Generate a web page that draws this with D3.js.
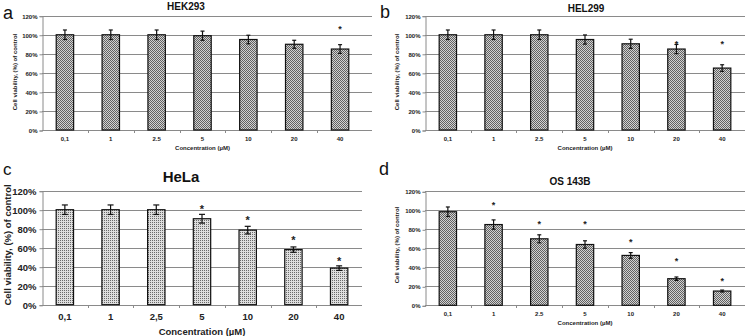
<!DOCTYPE html>
<html>
<head>
<meta charset="utf-8">
<script src="https://cdn.jsdelivr.net/npm/d3@7"></script>
<style>
  body { margin: 0; background: #fff; }
  svg { display: block; font-family: "Liberation Sans", Arial, sans-serif; }
</style>
</head>
<body>
<div id="chart"></div>
<script>
// Data
const concLabels = ["0,1", "1", "2.5", "5", "10", "20", "40"];
const concLabelsHeLa = ["0,1", "1", "2,5", "5", "10", "20", "40"];
const yTicks = [0, 20, 40, 60, 80, 100, 120];

const hek293Values = [100, 100, 100, 99, 95, 90, 85];
const hek293Errors = [5, 5, 5, 4.8, 4.5, 4.2, 4.6];
const hek293Stars = [null, null, null, null, null, null, 110];

const hel299Values = [100, 100, 100, 95, 90.5, 85, 65];
const hel299Errors = [5, 5, 5, 4.8, 4.8, 4.8, 3.5];
const hel299Stars = [null, null, null, null, null, 94, 94];

const helaValues = [100, 100, 100, 90.5, 78.5, 58, 38.5];
const helaErrors = [5, 5, 5, 4.6, 4, 2.8, 2.4];
const helaStars = [null, null, null, 104.5, 93, 72, 50];

const osValues = [98.5, 85, 70, 64, 52.5, 28, 15];
const osErrors = [5, 4.9, 4.2, 3.9, 3, 1.8, 1];
const osStars = [null, 109.5, 89.5, 89.5, 70, 50, 29];

const svg = d3.select("#chart").append("svg")
    .attr("width", 746)
    .attr("height", 336);

// Fill patterns
const defs = svg.append("defs");
const checker = defs.append("pattern")
    .attr("id", "checker")
    .attr("patternUnits", "userSpaceOnUse")
    .attr("width", 2).attr("height", 2);
checker.append("rect").attr("width", 2).attr("height", 2).attr("fill", "#d2d2d2");
checker.append("rect").attr("width", 1).attr("height", 1).attr("fill", "#626262");
checker.append("rect").attr("x", 1).attr("y", 1).attr("width", 1).attr("height", 1).attr("fill", "#626262");

const dots = defs.append("pattern")
    .attr("id", "dots")
    .attr("patternUnits", "userSpaceOnUse")
    .attr("width", 2).attr("height", 2);
dots.append("rect").attr("width", 2).attr("height", 2).attr("fill", "#dedede");
dots.append("rect").attr("width", 1).attr("height", 1).attr("fill", "#6a6a6a");

function drawPanel(p) {
    const x = d3.scaleBand()
        .domain(p.labels)
        .range([p.left, p.right])
        .padding(0);

    const y = d3.scaleLinear()
        .domain([0, 120])
        .range([p.bottom, p.top]);

    const g = svg.append("g");

    // Grid lines
    g.append("g")
        .selectAll("line")
        .data(yTicks.slice(1))
        .join("line")
        .attr("x1", p.left)
        .attr("x2", p.gridRight)
        .attr("y1", d => Math.round(y(d)) + 0.5)
        .attr("y2", d => Math.round(y(d)) + 0.5)
        .attr("stroke", "#8a8a8a")
        .attr("stroke-width", 1);

    // Y axis
    const yAxis = g.append("g")
        .attr("transform", `translate(${p.left + 0.5},0.5)`)
        .call(d3.axisLeft(y)
            .tickValues(yTicks)
            .tickSize(3)
            .tickPadding(p.tickPad)
            .tickFormat(d => d + "%"));
    yAxis.select(".domain").attr("stroke", "#8a8a8a");
    yAxis.selectAll(".tick line").attr("stroke", "#8a8a8a");
    yAxis.selectAll("text")
        .style("font-size", p.tickFont + "px")
        .style("font-weight", "bold")
        .attr("fill", "#222");

    // X axis
    const xAxis = g.append("g")
        .attr("transform", `translate(0,${Math.round(p.bottom) + 0.5})`)
        .call(d3.axisBottom(x).tickSize(0).tickPadding(p.xPad));
    xAxis.select(".domain").attr("stroke", "#8a8a8a").attr("d", `M${p.left},0H${p.gridRight}`);
    xAxis.selectAll("text")
        .style("font-size", p.tickFont + "px")
        .style("font-weight", "bold")
        .attr("fill", "#222");
    // small ticks between categories
    g.append("g")
        .selectAll("line")
        .data(p.labels.slice(1))
        .join("line")
        .attr("x1", d => Math.round(x(d)) + 0.5)
        .attr("x2", d => Math.round(x(d)) + 0.5)
        .attr("y1", Math.round(p.bottom))
        .attr("y2", Math.round(p.bottom) + 3)
        .attr("stroke", "#8a8a8a");

    const barW = x.bandwidth() * 0.38;
    const rows = p.values.map((v, i) => ({ label: p.labels[i], v: v, e: p.errors[i], s: p.stars[i] }));

    // Bars
    g.append("g")
        .selectAll("rect")
        .data(rows)
        .join("rect")
        .attr("x", d => x(d.label) + (x.bandwidth() - barW) / 2)
        .attr("y", d => y(d.v))
        .attr("width", barW)
        .attr("height", d => y(0) - y(d.v))
        .attr("fill", `url(#${p.pattern})`)
        .attr("stroke", "#111")
        .attr("stroke-width", 1.2);

    // Error bars
    const eb = g.append("g").attr("stroke", "#111").attr("stroke-width", 1.2);
    const cx = d => x(d.label) + x.bandwidth() / 2;
    eb.selectAll(".v")
        .data(rows)
        .join("line")
        .attr("class", "v")
        .attr("x1", cx).attr("x2", cx)
        .attr("y1", d => y(d.v + d.e))
        .attr("y2", d => y(d.v - d.e));
    ["top", "bot"].forEach(k => {
        eb.selectAll("." + k)
            .data(rows)
            .join("line")
            .attr("class", k)
            .attr("x1", d => cx(d) - p.cap)
            .attr("x2", d => cx(d) + p.cap)
            .attr("y1", d => y(k === "top" ? d.v + d.e : d.v - d.e))
            .attr("y2", d => y(k === "top" ? d.v + d.e : d.v - d.e));
    });

    // Significance stars
    g.append("g")
        .selectAll("text")
        .data(rows.filter(d => d.s !== null))
        .join("text")
        .attr("x", cx)
        .attr("y", d => y(d.s))
        .attr("dy", "0.7em")
        .attr("text-anchor", "middle")
        .style("font-size", p.starFont + "px")
        .style("font-weight", "bold")
        .attr("fill", "#222")
        .text("*");

    // Axis titles
    g.append("text")
        .attr("x", (p.left + p.right) / 2)
        .attr("y", p.xTitleY)
        .attr("text-anchor", "middle")
        .attr("dominant-baseline", "central")
        .style("font-size", p.titleFont + "px")
        .style("font-weight", "bold")
        .attr("fill", "#222")
        .text("Concentration (\u00b5M)");

    g.append("text")
        .attr("transform", `translate(${p.yTitleX},${p.yTitleY}) rotate(-90)`)
        .attr("text-anchor", "middle")
        .attr("dominant-baseline", "central")
        .style("font-size", p.titleFont + "px")
        .style("font-weight", "bold")
        .attr("fill", "#222")
        .text("Cell viability, (%) of control");

    // Chart title
    g.append("text")
        .attr("x", p.headX)
        .attr("y", p.headY)
        .attr("text-anchor", "middle")
        .attr("dominant-baseline", "central")
        .style("font-size", p.headFont + "px")
        .style("font-weight", "bold")
        .attr("fill", "#111")
        .text(p.name);

    // Panel letter
    g.append("text")
        .attr("x", p.letterX)
        .attr("y", p.letterY)
        .style("font-size", p.letterFont + "px")
        .attr("fill", "#111")
        .text(p.letter);
}

const small = { tickFont: 6, tickPad: 2, xPad: 6, titleFont: 6, starFont: 9, headFont: 10, cap: 2, letterFont: 18 };

drawPanel(Object.assign({}, small, {
    name: "HEK293", letter: "a", labels: concLabels,
    values: hek293Values, errors: hek293Errors, stars: hek293Stars, pattern: "checker",
    left: 42, right: 363, gridRight: 372, top: 15.7, bottom: 130,
    xTitleY: 148, yTitleX: 15, yTitleY: 72, headX: 186, headY: 6, letterX: 3, letterY: 19
}));

drawPanel(Object.assign({}, small, {
    name: "HEL299", letter: "b", labels: concLabels,
    values: hel299Values, errors: hel299Errors, stars: hel299Stars, pattern: "checker",
    left: 425, right: 745, gridRight: 745, top: 15.7, bottom: 130,
    xTitleY: 148, yTitleX: 397, yTitleY: 72, headX: 586, headY: 8, letterX: 380, letterY: 18
}));

drawPanel({
    tickFont: 9.5, tickPad: 3, xPad: 8, titleFont: 9.5, starFont: 11, headFont: 15, cap: 3, letterFont: 17,
    name: "HeLa", letter: "c", labels: concLabelsHeLa,
    values: helaValues, errors: helaErrors, stars: helaStars, pattern: "dots",
    left: 42, right: 362, gridRight: 362, top: 190.7, bottom: 304.7,
    xTitleY: 331, yTitleX: 7, yTitleY: 245, headX: 181, headY: 176, letterX: 3, letterY: 175
});

drawPanel(Object.assign({}, small, {
    name: "OS 143B", letter: "d", labels: concLabels,
    values: osValues, errors: osErrors, stars: osStars, pattern: "checker",
    left: 425, right: 745, gridRight: 745, top: 191.3, bottom: 305.3,
    xTitleY: 323, yTitleX: 397, yTitleY: 245, headX: 570, headY: 181, letterX: 379, letterY: 175
}));
</script>
</body>
</html>
